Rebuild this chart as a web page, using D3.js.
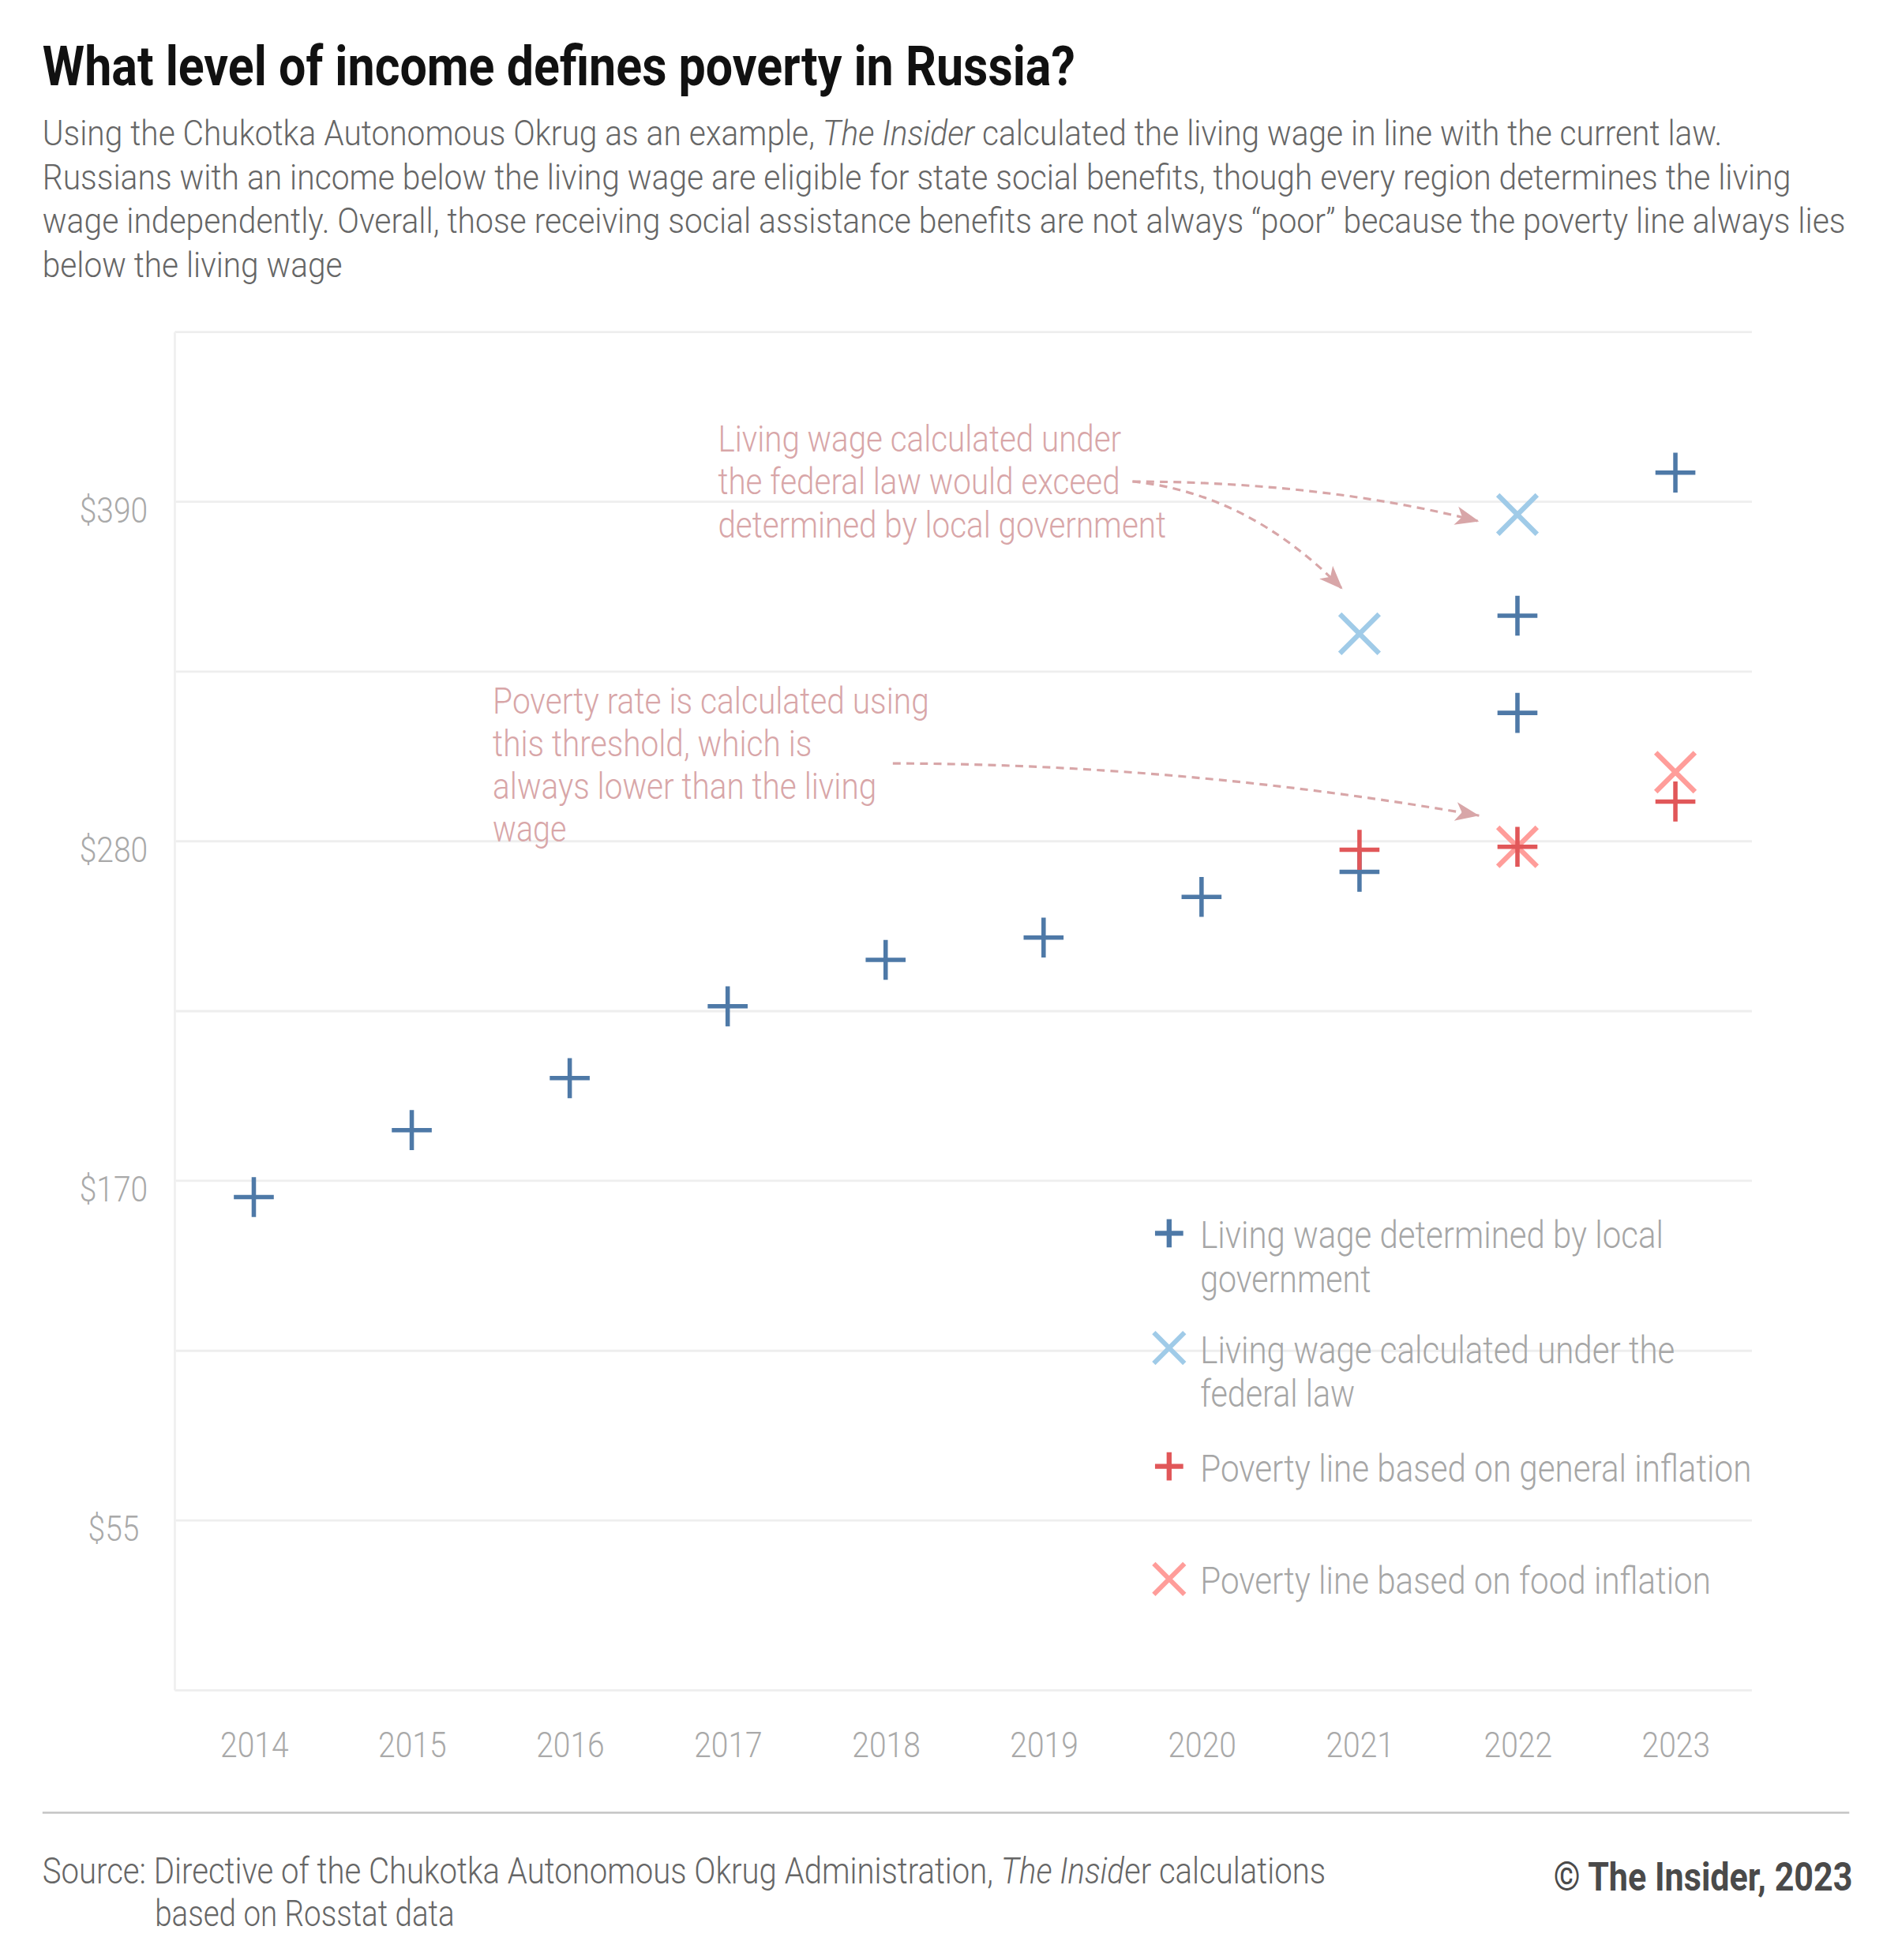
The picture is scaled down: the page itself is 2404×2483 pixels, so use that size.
<!DOCTYPE html>
<html>
<head>
<meta charset="utf-8">
<script src="https://d3js.org/d3.v7.min.js"></script>
<style>
  body { margin: 0; background: #fff; }
  svg { display: block; font-family: Roboto, "Noto Sans", sans-serif; }
</style>
</head>
<body>
<div id="chart"></div>
<script>
// values, in US dollars
const years = ["2014", "2015", "2016", "2017", "2018", "2019", "2020", "2021", "2022", "2023"];

const localWageYears  = ["2014", "2015", "2016", "2017", "2018", "2019", "2020", "2021", "2022", "2022", "2023"];
const localWageValues = [161.4, 183.3, 200.3, 223.8, 239.0, 246.3, 259.6, 267.8, 319.8, 351.6, 398.4];

const federalLawYears  = ["2021", "2022"];
const federalLawValues = [345.7, 384.7];

const generalInflYears  = ["2021", "2022", "2023"];
const generalInflValues = [275.0, 276.0, 290.8];

const foodInflYears  = ["2022", "2023"];
const foodInflValues = [276.0, 300.4];

// gridlines sit every 5,000 roubles, labelled every other one
const gridValues  = [0, 55.6, 111.1, 166.7, 222.2, 277.8, 333.3, 388.9, 444.4];
const yTickValues = [55.6, 166.7, 277.8, 388.9];
const yTickLabels = ["$55", "$170", "$280", "$390"];

const legendLabels = [
  ["Living wage determined by local", "government"],
  ["Living wage calculated under the", "federal law"],
  ["Poverty line based on general inflation"],
  ["Poverty line based on food inflation"]
];

// ---------------------------------------------------------------
const W = 1520, H = 1570;
const svg = d3.select("#chart").append("svg")
  .attr("width", 2404).attr("height", 2483)
  .attr("viewBox", `0 0 ${W} ${H}`);

// the picture uses a condensed face: squeeze each text horizontally
function squeezeBy(sel, k) {
  sel.each(function () {
    const n = this;
    const kk = typeof k === "function" ? k(n) : k;
    const x = +n.getAttribute("x") || 0, y = +n.getAttribute("y") || 0;
    n.setAttribute("x", 0);
    n.setAttribute("y", 0);
    const prev = n.getAttribute("transform") || "";
    n.setAttribute("transform", `${prev} translate(${x},${y}) scale(${kk},1)`);
  });
}
function fit(sel, w) {
  squeezeBy(sel, n => w / n.getComputedTextLength());
}

// title
svg.append("text")
  .attr("x", 34).attr("y", 68)
  .style("font-size", "45px").style("font-weight", 700).style("fill", "#111")
  .text("What level of income defines poverty in Russia?")
  .call(fit, 827);

// subtitle
const sub = [
  [["Using the Chukotka Autonomous Okrug as an example, ", false], ["The Insider", true], [" calculated the living wage in line with the current law.", false]],
  [["Russians with an income below the living wage are eligible for state social benefits, though every region determines the living", false]],
  [["wage independently. Overall, those receiving social assistance benefits are not always \u201cpoor\u201d because the poverty line always lies", false]],
  [["below the living wage", false]]
];
const subWidths = [1345, 1400, 1444, 240];
sub.forEach((line, i) => {
  const t = svg.append("text")
    .attr("x", 34).attr("y", 116.3 + i * 35.2)
    .style("font-size", "28px").style("font-weight", 300).style("fill", "#666");
  line.forEach(([s, it]) => t.append("tspan").style("font-style", it ? "italic" : "normal").text(s));
  t.call(fit, subWidths[i]);
});

// scales
const x = d3.scalePoint().domain(years).range([140, 1405]).padding(0.5);
const y = d3.scaleLinear().domain([0, 444.4]).range([1354, 266]);

// grid
svg.append("g").selectAll("line").data(gridValues).join("line")
  .attr("x1", 140).attr("x2", 1403)
  .attr("y1", d => y(d)).attr("y2", d => y(d))
  .attr("stroke", "#eeeeee").attr("stroke-width", 1.8);
svg.append("line")
  .attr("x1", 140).attr("x2", 140).attr("y1", y(444.4)).attr("y2", y(0))
  .attr("stroke", "#f0f0f0").attr("stroke-width", 1.8);

// y axis
const yAxis = svg.append("g")
  .attr("transform", "translate(140,0)")
  .call(d3.axisLeft(y).tickValues(yTickValues).tickFormat((d, i) => yTickLabels[i]).tickSize(0));
yAxis.select(".domain").remove();
yAxis.selectAll("text")
  .attr("x", -49).attr("y", 16).attr("dy", 0).attr("text-anchor", "middle")
  .style("font-family", "Roboto, sans-serif").style("font-size", "28px")
  .style("font-weight", 300).style("fill", "#a9a9a9")
  .call(squeezeBy, 0.88);

// x axis
const xAxis = svg.append("g")
  .attr("transform", `translate(0,${y(0)})`)
  .call(d3.axisBottom(x).tickSize(0));
xAxis.select(".domain").remove();
xAxis.selectAll("text")
  .attr("y", 53.5).attr("dy", 0)
  .style("font-family", "Roboto, sans-serif").style("font-size", "28px")
  .style("font-weight", 300).style("fill", "#a9a9a9")
  .call(squeezeBy, 0.88);

// annotations
const noteColor = "#d8a6a8";
const notes = [
  { x: 575, y: 361.8, lines: ["Living wage calculated under", "the federal law would exceed", "determined by local government"], widths: [323, 322, 359] },
  { x: 394.6, y: 571.5, lines: ["Poverty rate is calculated using", "this threshold, which is", "always lower than the living", "wage"], widths: [349.5, 255.6, 307.4, 59] }
];
notes.forEach(n => {
  n.lines.forEach((s, i) => {
    svg.append("text")
      .attr("x", n.x).attr("y", n.y + i * 34.25)
      .style("font-size", "29px").style("font-weight", 300).style("fill", noteColor)
      .text(s)
      .call(fit, n.widths[i]);
  });
});

// arrows
svg.append("defs").append("marker")
  .attr("id", "head").attr("markerUnits", "userSpaceOnUse")
  .attr("viewBox", "-20 -8 21 16").attr("refX", 0).attr("refY", 0)
  .attr("markerWidth", 21).attr("markerHeight", 16).attr("orient", "auto")
  .append("path").attr("d", "M0,0L-19,-7.5L-14,0L-19,7.5Z").attr("fill", noteColor);

const arrows = [
  { from: [907, 385.7], ctrl: [1060, 386], to: [x("2022") - 30.7, y(federalLawValues[1]) + 5.5] },
  { from: [907, 385.7], ctrl: [1000, 395], to: [x("2021") - 13.5, y(federalLawValues[0]) - 35.6] },
  { from: [715, 611.5], ctrl: [950, 612], to: [x("2022") - 30.7, y(generalInflValues[1]) - 25] }
];
arrows.forEach(a => {
  const p = d3.path();
  p.moveTo(a.from[0], a.from[1]);
  p.quadraticCurveTo(a.ctrl[0], a.ctrl[1], a.to[0], a.to[1]);
  svg.append("path").attr("d", p.toString())
    .attr("fill", "none").attr("stroke", noteColor).attr("stroke-width", 2)
    .attr("stroke-dasharray", "6.3 4.6").attr("marker-end", "url(#head)");
});

// symbols
const plusType = {
  draw(ctx, size) {
    const r = Math.sqrt(size) / 2;
    ctx.moveTo(-r, 0); ctx.lineTo(r, 0);
    ctx.moveTo(0, -r); ctx.lineTo(0, r);
  }
};
const crossType = {
  draw(ctx, size) {
    const r = Math.sqrt(size) / 2;
    ctx.moveTo(-r, -r); ctx.lineTo(r, r);
    ctx.moveTo(-r, r); ctx.lineTo(r, -r);
  }
};

const series = [
  { key: "local",   years: localWageYears,   values: localWageValues,   type: plusType,  color: "#4e79a7", r: 16,   w: 3.5, lr: 11.3, lw: 4 },
  { key: "federal", years: federalLawYears,  values: federalLawValues,  type: crossType, color: "#a0cbe8", r: 15.7, w: 4,   lr: 12.3, lw: 3.8 },
  { key: "general", years: generalInflYears, values: generalInflValues, type: plusType,  color: "#e15759", r: 16,   w: 3.5, lr: 11.3, lw: 4 },
  { key: "food",    years: foodInflYears,    values: foodInflValues,    type: crossType, color: "#ff9d9a", r: 15.7, w: 4,   lr: 12.3, lw: 3.8 }
];

// draw crosses under the plus signs
[series[1], series[3], series[0], series[2]].forEach(s => {
  const sym = d3.symbol().type(s.type).size((2 * s.r) ** 2);
  svg.append("g").selectAll("path")
    .data(s.values.map((v, i) => ({ year: s.years[i], value: v })))
    .join("path")
    .attr("transform", d => `translate(${x(d.year)},${y(d.value)})`)
    .attr("d", sym)
    .attr("fill", "none").attr("stroke", s.color).attr("stroke-width", s.w);
});

// legend
const legendY = [999.9, 1091.7, 1186.6, 1276.8];
const legendWidths = [[371, 136.7], [380, 124], [441.5], [409]];
const legend = svg.append("g");
series.forEach((s, i) => {
  legend.append("path")
    .attr("transform", `translate(936.3,${legendY[i] - 12})`)
    .attr("d", d3.symbol().type(s.type).size((2 * s.lr) ** 2))
    .attr("fill", "none").attr("stroke", s.color).attr("stroke-width", s.lw);
  legendLabels[i].forEach((t, j) => {
    legend.append("text")
      .attr("x", 961.2).attr("y", legendY[i] + j * 35.2)
      .style("font-size", "30px").style("font-weight", 300).style("fill", "#a6a6a6")
      .text(t)
      .call(fit, legendWidths[i][j]);
  });
});

// footer
svg.append("line")
  .attr("x1", 34).attr("x2", 1481).attr("y1", 1452).attr("y2", 1452)
  .attr("stroke", "#c8c8c8").attr("stroke-width", 1.8);

const src = svg.append("text")
  .attr("x", 34).attr("y", 1508.4)
  .style("font-size", "29px").style("font-weight", 300).style("fill", "#666");
src.append("tspan").text("Source: Directive of the Chukotka Autonomous Okrug Administration, ");
src.append("tspan").style("font-style", "italic").text("The Insid");
src.append("tspan").text("er calculations");
src.call(fit, 1027.8);

svg.append("text")
  .attr("x", 124).attr("y", 1542.7)
  .style("font-size", "29px").style("font-weight", 300).style("fill", "#666")
  .text("based on Rosstat data")
  .call(fit, 240);

svg.append("text")
  .attr("x", 1483.7).attr("y", 1514.3).attr("text-anchor", "end")
  .style("font-size", "31px").style("font-weight", 700).style("fill", "#4a4a4a")
  .text("\u00a9 The Insider, 2023")
  .call(fit, 239.5);
</script>
</body>
</html>
